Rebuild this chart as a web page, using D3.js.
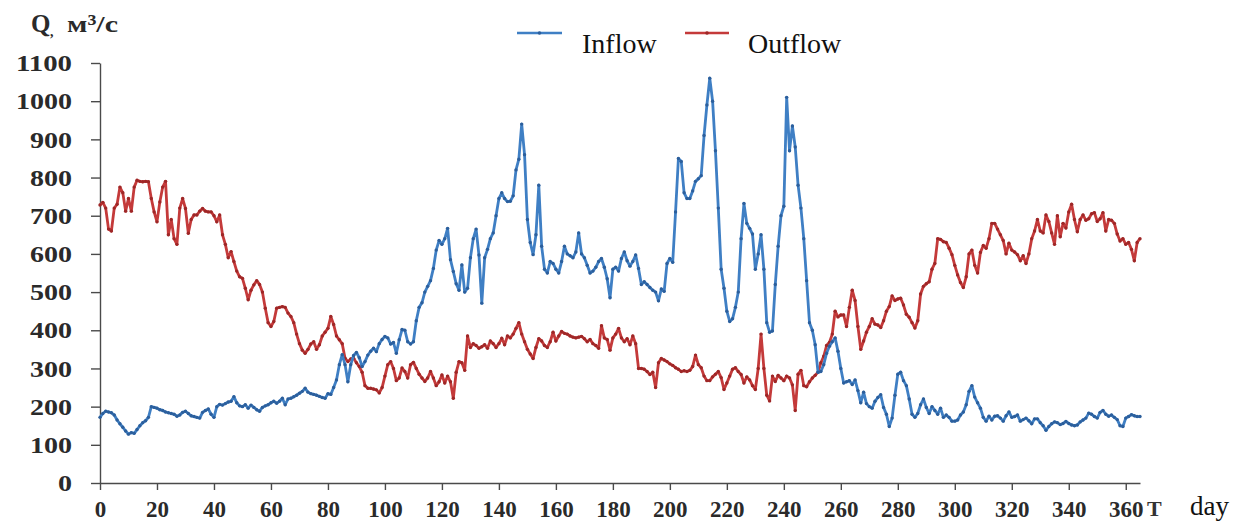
<!DOCTYPE html>
<html><head><meta charset="utf-8">
<script src="https://cdn.jsdelivr.net/npm/d3@7"></script>
<style>html,body{margin:0;padding:0;background:#fff;} svg{display:block;}</style>
</head><body><svg id="c" width="1245" height="523"></svg>
<script>
// Daily discharge, day 0..365 (m3/s)
const inflow = [
172,182,188,186,184,178,165,155,146,136,
128,132,130,140,150,158,163,172,200,198,
196,192,190,186,184,182,180,175,178,185,
188,182,176,174,172,170,185,190,194,180,
172,200,206,204,208,212,214,226,210,202,
200,205,196,204,198,192,188,198,202,205,
210,214,209,214,222,205,220,222,226,230,
235,240,248,238,234,232,230,227,224,222,
234,232,250,270,310,336,310,265,310,334,
342,328,305,318,335,345,353,344,365,376,
384,380,364,368,340,375,402,400,370,364,
370,425,460,472,500,515,530,562,610,635,
625,640,667,585,554,522,505,571,500,510,
590,640,665,597,471,590,612,640,655,700,
745,760,745,737,738,752,820,848,940,860,
690,630,598,650,780,620,560,550,580,575,
560,550,580,620,600,595,590,605,655,600,
590,570,550,555,565,580,588,565,535,485,
560,565,555,588,605,582,568,580,597,562,
520,527,520,512,505,500,477,508,502,575,
588,578,710,850,842,760,745,745,765,790,
797,805,910,990,1060,1000,870,720,560,510,
450,423,430,460,500,640,732,680,667,652,
560,600,650,560,420,395,398,520,620,700,
725,1010,870,935,880,780,720,640,530,420,
400,362,290,292,310,340,358,370,380,345,
300,262,265,268,258,270,242,210,238,208,
200,196,214,224,231,198,180,148,170,230,
285,290,268,255,220,180,172,182,205,220,
198,182,200,190,180,196,172,178,172,162,
162,165,178,186,205,240,255,225,210,196,
172,162,175,165,175,176,170,162,176,186,
172,174,178,162,166,170,163,155,168,168,
158,150,138,148,155,160,158,153,156,161,
156,152,150,152,160,165,170,183,180,174,
170,185,190,180,175,178,172,166,150,148,
170,174,179,176,174,174];

const outflow = [
728,735,720,665,660,720,730,775,760,712,
745,712,775,793,790,789,790,789,745,710,
684,736,775,790,650,690,640,625,720,745,
719,654,690,702,702,712,719,712,710,710,
700,684,702,650,625,590,606,580,555,540,
536,510,480,505,519,530,520,500,458,420,
410,423,458,460,462,460,445,436,420,390,
365,348,340,350,364,370,350,362,385,395,
405,436,415,385,375,365,327,318,325,327,
315,305,290,255,248,248,246,244,236,250,
280,310,318,300,268,275,301,292,275,310,
316,300,285,275,266,275,292,275,255,265,
283,262,280,265,222,290,318,315,295,385,
355,365,360,353,357,362,353,372,365,355,
365,379,362,385,380,390,405,420,390,370,
350,338,326,355,378,372,360,355,370,395,
372,385,397,392,390,385,382,380,382,384,
378,370,376,365,360,353,412,380,376,348,
380,390,405,380,370,378,362,385,365,300,
300,298,292,284,290,250,315,326,322,318,
312,308,302,298,292,294,292,295,305,335,
310,302,280,268,268,278,285,292,276,245,
262,280,298,302,292,284,262,278,270,255,
245,300,390,300,230,215,280,266,282,275,
268,280,275,257,190,285,295,255,252,265,
275,282,290,315,332,360,368,390,450,435,
440,440,410,460,505,478,410,350,372,395,
410,430,416,414,407,425,450,462,490,478,
482,484,466,442,434,420,406,425,495,515,
522,527,560,575,640,638,632,630,615,598,
570,545,525,512,540,600,610,570,550,604,
622,615,640,680,680,665,650,635,600,628,
610,605,598,582,595,575,600,640,660,690,
660,655,702,685,655,625,700,645,680,668,
710,730,690,658,690,702,688,692,705,708,
685,692,708,660,690,688,680,652,634,640,
625,630,612,582,630,640];

const xTicks = [0,20,40,60,80,100,120,140,160,180,200,220,240,260,280,300,320,340,360];
const yTicks = [0,100,200,300,400,500,600,700,800,900,1000,1100];
const seriesNames = ["Inflow", "Outflow"];

const colors = {Inflow: "#3f7fc4", Outflow: "#c43a3a"};
const markColors = {Inflow: "#2c5f9c", Outflow: "#9e2727"};

const svg = d3.select("#c");
const x = d3.scaleLinear().domain([0, 365]).range([100, 1140]);
const y = d3.scaleLinear().domain([0, 1100]).range([483, 63]);

const serif = "Liberation Serif, Times New Roman, serif";
const axisColor = "#4a4a4a";
const fmt = d3.format("d");

// Y axis
const gy = svg.append("g").attr("transform", "translate(100,0)")
  .call(d3.axisLeft(y).tickValues(yTicks).tickFormat(fmt).tickSize(9).tickSizeOuter(0).tickPadding(19));
gy.attr("font-family", serif);
gy.selectAll("path,line").attr("stroke", axisColor).attr("stroke-width", 1.4);
gy.selectAll("text").attr("font-family", serif).attr("font-weight", "bold")
  .attr("font-size", 24).attr("fill", "#2a2a2a")
  .attr("textLength", d => fmt(d).length * 14)
  .attr("lengthAdjust", "spacingAndGlyphs");

// X axis
const gx = svg.append("g").attr("transform", "translate(0,483)")
  .call(d3.axisBottom(x).tickValues(xTicks).tickFormat(fmt).tickSize(7).tickSizeOuter(0).tickPadding(11));
gx.attr("font-family", serif);
gx.selectAll("path,line").attr("stroke", axisColor).attr("stroke-width", 1.4);
gx.selectAll("text").attr("font-family", serif).attr("font-weight", "bold")
  .attr("font-size", 23).attr("fill", "#2a2a2a");

// Series
const data = {Inflow: inflow, Outflow: outflow};
const line = d3.line().x((d, i) => x(i)).y(d => y(d));
seriesNames.slice().reverse().forEach(name => {
  const vals = data[name];
  const g = svg.append("g");
  g.append("path").datum(vals).attr("d", line)
    .attr("fill", "none").attr("stroke", colors[name])
    .attr("stroke-width", 2.8).attr("stroke-linejoin", "round");
  g.selectAll("circle").data(vals).enter().append("circle")
    .attr("cx", (d, i) => x(i)).attr("cy", d => y(d))
    .attr("r", 1.7).attr("fill", markColors[name]);
});

// Legend
const legend = [
  {name: "Inflow", x1: 517, x2: 562, tx: 582},
  {name: "Outflow", x1: 685, x2: 729, tx: 748}
];
legend.forEach(l => {
  svg.append("line").attr("x1", l.x1).attr("x2", l.x2).attr("y1", 33).attr("y2", 33)
    .attr("stroke", colors[l.name]).attr("stroke-width", 2.6);
  svg.append("circle").attr("cx", (l.x1 + l.x2) / 2).attr("cy", 33).attr("r", 1.8)
    .attr("fill", markColors[l.name]);
  svg.append("text").attr("x", l.tx).attr("y", 53).text(l.name)
    .attr("font-family", serif).attr("font-size", 28).attr("fill", "#111");
});

// Axis titles
svg.append("text").attr("x", 31).attr("y", 32).text("Q")
  .attr("font-family", serif).attr("font-weight", "bold").attr("font-size", 25).attr("fill", "#2a2a2a");
svg.append("text").attr("x", 50).attr("y", 36).text(",")
  .attr("font-family", serif).attr("font-weight", "bold").attr("font-size", 14).attr("fill", "#2a2a2a");
svg.append("text").attr("x", 67).attr("y", 32).text("м³/с")
  .attr("font-family", serif).attr("font-weight", "bold").attr("font-size", 24).attr("fill", "#2a2a2a")
  .attr("textLength", 51).attr("lengthAdjust", "spacingAndGlyphs");
svg.append("text").attr("x", 1147).attr("y", 516).text("T")
  .attr("font-family", serif).attr("font-weight", "bold").attr("font-size", 22).attr("fill", "#333");
svg.append("text").attr("x", 1190).attr("y", 515).text("day")
  .attr("font-family", serif).attr("font-size", 27).attr("fill", "#111");
</script>
</body></html>
